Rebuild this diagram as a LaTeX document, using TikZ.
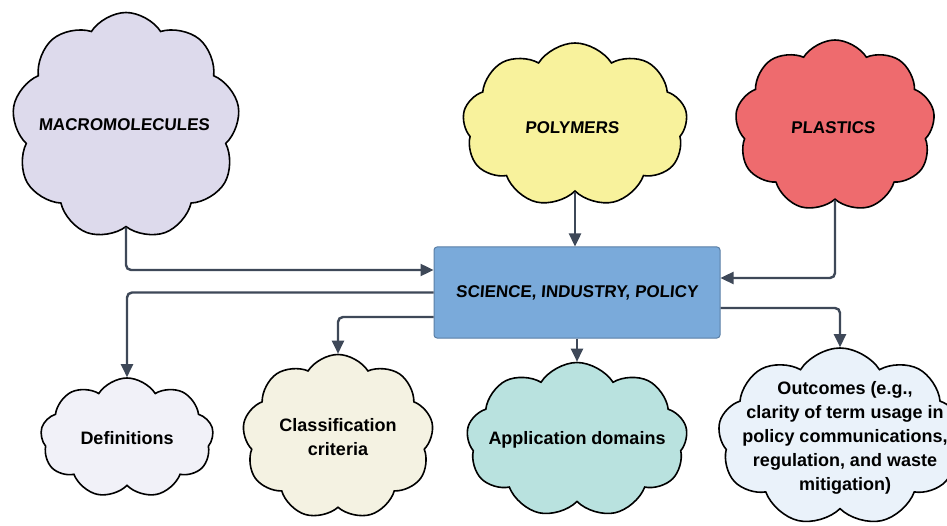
\documentclass[tikz,border=0pt]{standalone}
\usepackage{fontspec}
\setmainfont{Liberation Sans}
\newfontfamily\comicfont[FakeSlant=0.08]{Liberation Sans}
\usetikzlibrary{shapes.symbols,arrows.meta}
\definecolor{macroc}{HTML}{DDDAEC}
\definecolor{polyc}{HTML}{F8F29C}
\definecolor{plastc}{HTML}{EE6B6E}
\definecolor{boxc}{HTML}{7AAADA}
\definecolor{boxline}{HTML}{5A7FA6}
\definecolor{defc}{HTML}{F1F1F8}
\definecolor{classc}{HTML}{F4F2E2}
\definecolor{applc}{HTML}{B9E2DF}
\definecolor{outc}{HTML}{EAF2FA}
\definecolor{arrowc}{HTML}{3E4858}
\begin{document}
\begin{tikzpicture}[x=1pt,y=-1pt,
  cloudbox/.style={cloud, cloud puffs=9, cloud puff arc=115, aspect=1, draw=black, line width=1.6pt, inner sep=0pt},
  comictxt/.style={font=\comicfont\bfseries\fontsize{17}{20}\selectfont, inner sep=0pt},
  bodytxt/.style={font=\bfseries\fontsize{18}{24}\selectfont, align=center, inner sep=0pt},
  arr/.style={draw=arrowc, line width=2.4pt, rounded corners=5pt, -{Triangle[length=13pt,width=12pt]}}]
\useasboundingbox (0,0) rectangle (947,526);
\clip (0,0) rectangle (947,526);
\fill[white] (0,0) rectangle (947,526);
% top clouds
\node[cloudbox, fill=macroc, minimum width=228pt, minimum height=227pt] (macro) at (126,126) {};
\node[comictxt] (macroT) at (124,125) {MACROMOLECULES};
\node[cloudbox, fill=polyc, minimum width=225pt, minimum height=164pt] (poly) at (575,125) {};
\node[comictxt] (polyT) at (572,128) {POLYMERS};
\node[cloudbox, fill=plastc, minimum width=200pt, minimum height=172pt] (plast) at (835,126) {};
\node[comictxt] (plastT) at (833,128) {PLASTICS};
% central box
\node[draw=boxline, fill=boxc, line width=1pt, rounded corners=3pt, minimum width=286pt, minimum height=91pt, comictxt] (box) at (577,292.5) {SCIENCE, INDUSTRY, POLICY};
% bottom clouds
\node[cloudbox, fill=defc, minimum width=173pt, minimum height=120pt] (defs) at (127,438) {};
\node[bodytxt] (defsT) at (defs.center) {Definitions};
\node[cloudbox, fill=classc, minimum width=191pt, minimum height=165pt] (class) at (338,437) {};
\node[bodytxt] (classT) at (class.center) {Classification\\criteria};
\node[cloudbox, fill=applc, minimum width=221pt, minimum height=155pt] (appl) at (577,440) {};
\node[bodytxt] (applT) at (appl.center) {Application domains};
\node[cloudbox, fill=outc, minimum width=244pt, minimum height=178pt] (outc) at (840,437) {};
\node[bodytxt] (outcT) at (845,438) {Outcomes (e.g.,\\clarity of term usage in\\policy communications,\\regulation, and waste\\mitigation)};
% connectors
\draw[arr] (macro.south) |- ([yshift=22.5pt]box.west);
\draw[arr] (poly.south) -- (poly.south |- box.north);
\draw[arr] (plast.south) |- ([yshift=14.5pt]box.east);
\draw[arr] (box.west) -| (defs.north);
\draw[arr] ([yshift=-24.5pt]box.west) -| (class.north);
\draw[arr] ([yshift=-15.5pt]box.east) -| (outc.north);
\draw[arr] (box.south) -- (box.south |- appl.north);
\end{tikzpicture}
\end{document}
